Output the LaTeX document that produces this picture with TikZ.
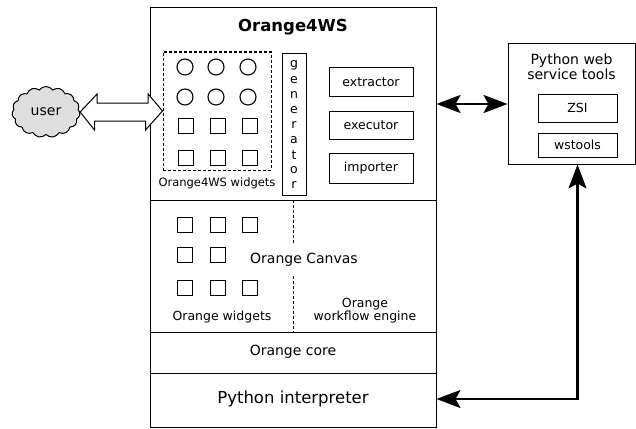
\documentclass[tikz,border=0pt]{standalone}
\usepackage{fontspec}
\setmainfont{DejaVu Sans}
\usetikzlibrary{shapes.symbols,arrows.meta,calc}
\begin{document}
\begin{tikzpicture}[x=1pt,y=-1pt,
  box/.style={draw,line width=1pt,inner sep=0pt,minimum width=#1},
  txt/.style={font=\fontsize{14}{15.5}\selectfont,inner sep=0pt},
  smalltxt/.style={font=\fontsize{12.5}{14}\selectfont,inner sep=0pt},
  dashline/.style={line width=1pt,dash pattern=on 3pt off 2pt},
  wid/.style={draw,line width=1pt,minimum size=15.5pt,inner sep=0pt},
  wcirc/.style={draw,line width=1.1pt,circle,minimum size=16pt,inner sep=0pt},
  bigarrow/.style={line width=2.2pt,{Stealth[length=24pt,width=18pt,inset=5pt]}-{Stealth[length=24pt,width=18pt,inset=5pt]}},
  hollow/.style={draw,line width=1pt,fill=white}]
\useasboundingbox (0,0) rectangle (636,428);
% main box
\node[box=286pt,minimum height=419pt] (main) at (293,217.5) {};
\node[font=\fontsize{16.5}{18}\selectfont\bfseries,inner sep=0pt] (title) at (293,27) {Orange4WS};
\draw[line width=1pt] (main.west |- 0,200) -- (main.east |- 0,200);
\draw[line width=1pt] (main.west |- 0,332) -- (main.east |- 0,332);
\draw[line width=1pt] (main.west |- 0,373) -- (main.east |- 0,373);
% dashed widget box
\node[draw,dashline,minimum width=108pt,minimum height=118pt,inner sep=0pt] (dbox) at (217,111) {};
\foreach \x/\n in {185/a,216/b,248/c}{
  \node[wcirc] (c1\n) at (\x,67) {};
  \node[wcirc] (c2\n) at (\x,97) {};
}
\foreach \x/\n in {186/a,218/b,250/c}{
  \node[wid] (s1\n) at (\x,126) {};
  \node[wid] (s2\n) at (\x,158) {};
}
\node[font=\fontsize{11.5}{13}\selectfont,inner sep=0pt] (wlabel) at (217,183) {Orange4WS widgets};
% generator
\node[box=24pt,minimum height=142pt] (gen) at (294,124) {};
\foreach \l [count=\i] in {g,e,n,e,r,a,t,o,r}{
  \node[smalltxt] (g\i) at (294,{50+15*\i}) {\l};
}
% extractor etc.
\node[box=84pt,minimum height=29pt,smalltxt] (extr) at (371,82) {extractor};
\node[box=84pt,minimum height=28pt,smalltxt] (exec) at (371,125) {executor};
\node[box=84pt,minimum height=30pt,smalltxt] (imp) at (371,168) {importer};
% Orange canvas section
\foreach \x/\n in {185/a,218/b,250/c}{
  \node[wid] (o1\n) at (\x,225) {};
  \node[wid] (o3\n) at (\x,288) {};
}
\node[wid] (o2a) at (185,255) {};
\node[wid] (o2b) at (218,255) {};
\draw[dashline] (293,200) -- (293,243);
\draw[dashline] (293,276) -- (293,332);
\node[txt] (canvas) at (304,260) {Orange Canvas};
\node[smalltxt] (owid) at (222,317) {Orange widgets};
\node[smalltxt,align=center] (engine) at (365,311) {Orange\\[-1pt]workflow engine};
\node[txt] (core) at (293,352) {Orange core};
\node[font=\fontsize{16.5}{18}\selectfont,inner sep=0pt] (interp) at (293,399) {Python interpreter};
% python tools box
\node[box=127pt,minimum height=120pt] (pytools) at (571.5,104) {};
\node[txt,align=center] (pytitle) at (571.5,67) {Python web\\service tools};
\node[box=79pt,minimum height=28pt,smalltxt] (zsi) at (577.5,108) {ZSI};
\node[box=79pt,minimum height=24pt,smalltxt] (wst) at (577.5,145) {wstools};
% user cloud
\node[draw,cloud,cloud puffs=15,cloud puff arc=110,aspect=1.35,fill=black!13,line width=1pt,
      minimum width=68pt,minimum height=51pt,inner sep=0pt,txt] (user) at (46,112) {user};
% hollow double arrow
\draw[hollow] (user.east) -- ++(17,-18) -- ++(0,9) -- ++(51,0) -- ++(0,-9)
  -- (dbox.west) -- ++(-17,19) -- ++(0,-9) -- ++(-51,0) -- ++(0,9) -- cycle;
% connectors
\draw[bigarrow] (main.east |- pytools.west) -- (pytools.west);
\draw[bigarrow] (main.east |- interp) -- (wst.center |- interp) -- (wst.center |- pytools.south);
\end{tikzpicture}
\end{document}
